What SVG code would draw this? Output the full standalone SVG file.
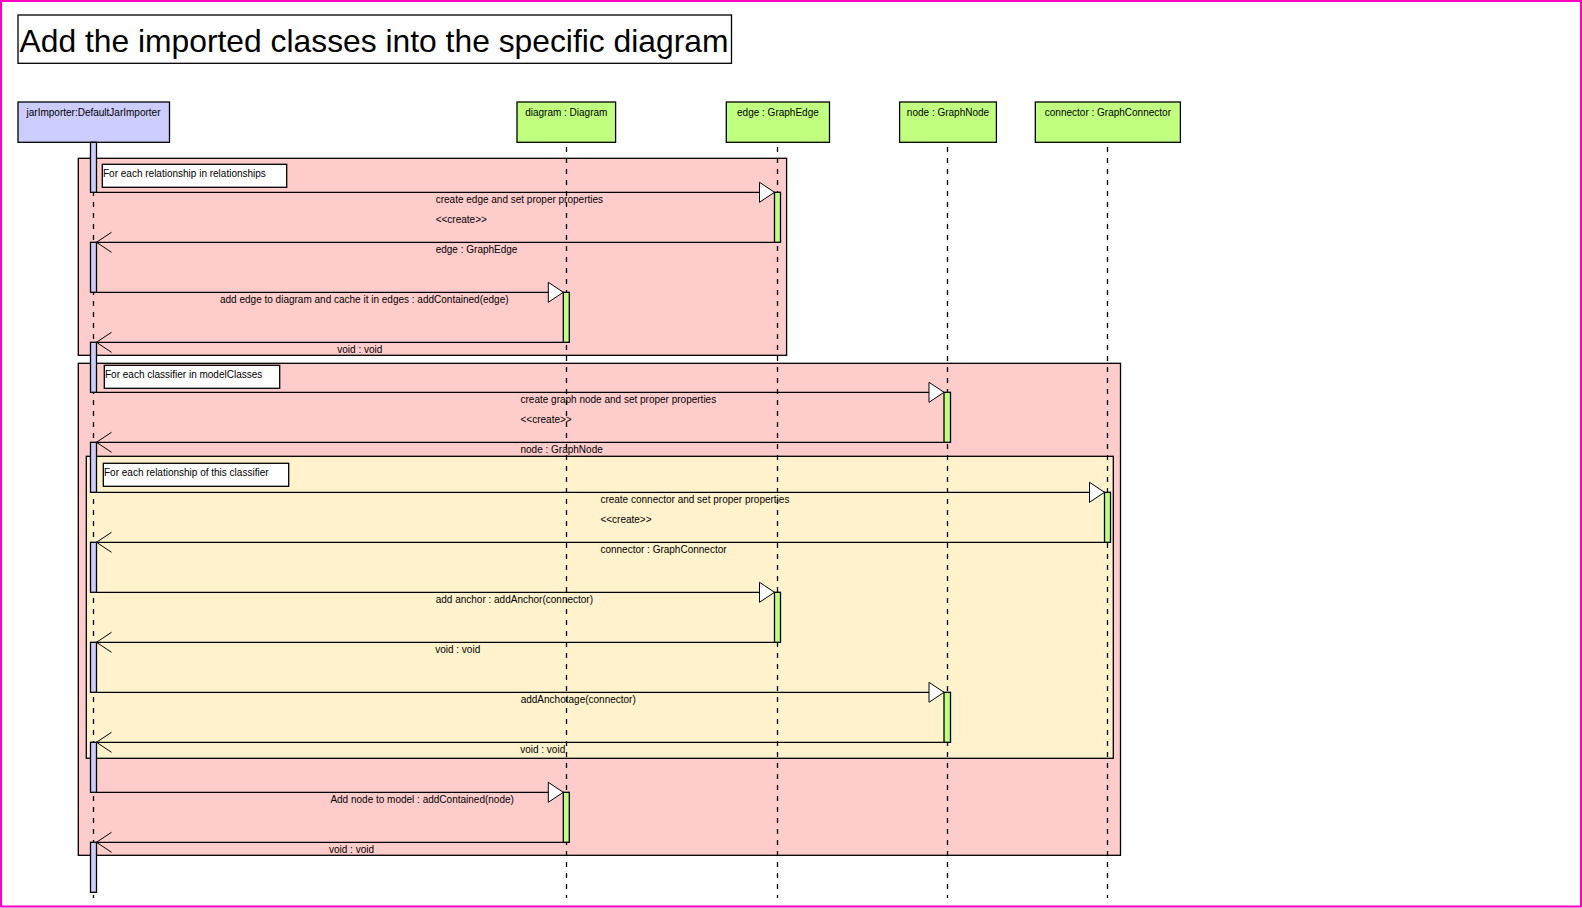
<svg xmlns="http://www.w3.org/2000/svg" width="1582" height="908" viewBox="0 0 1582 908">
<style>
text{font-family:"Liberation Sans",Arial,sans-serif;font-size:10px;fill:#000}
.title{font-size:32px}
.head{text-anchor:middle}
.frame{stroke:#000;stroke-width:1.3}
.pink{fill:#ffcccc}
.yellow{fill:#fff2cc}
.lbl{fill:#fff;stroke:#000;stroke-width:1.3}
.life{stroke:#000;stroke-width:1.3;stroke-dasharray:5,6;fill:none}
.hdr{stroke:#000;stroke-width:1.3}
.actA{fill:#ccccff;stroke:#000;stroke-width:1.3}
.actB{fill:#c0ff80;stroke:#000;stroke-width:1.3}
.msg{stroke:#000;stroke-width:1.3;fill:none}
.tri{fill:#fff;stroke:#000;stroke-width:1}
.open{stroke:#000;stroke-width:1;fill:none}
</style>
<rect x="0" y="0" width="1582" height="908" fill="#fff"/>
<rect x="1" y="1" width="1580" height="905.5" fill="none" stroke="#ff00c0" stroke-width="2"/>

<g id="title">
<rect x="18" y="15" width="713.5" height="48.3" fill="#fff" stroke="#000" stroke-width="1.3"/>
<text class="title" x="19.5" y="52" textLength="709" lengthAdjust="spacingAndGlyphs">Add the imported classes into the specific diagram</text>
</g>

<g id="frames">
<rect class="frame pink" x="78.3" y="158.3" width="708.3" height="197"/>
<rect class="lbl" x="102.3" y="164.3" width="184.4" height="23"/>
<text x="103" y="177">For each relationship in relationships</text>
<rect class="frame pink" x="78.3" y="363.3" width="1042.2" height="492"/>
<rect class="lbl" x="104.3" y="365.3" width="175.4" height="23"/>
<text x="105" y="378">For each classifier in modelClasses</text>
<rect class="frame yellow" x="86.3" y="456.3" width="1027" height="302"/>
<rect class="lbl" x="103.3" y="463.3" width="185.4" height="23"/>
<text x="104" y="476">For each relationship of this classifier</text>
</g>

<g id="jarImporter">
<rect class="hdr" x="18" y="102" width="151.5" height="40.3" fill="#ccccff"/>
<text class="head" x="93.5" y="116">jarImporter:DefaultJarImporter</text>
<line class="life" x1="93.5" y1="147" x2="93.5" y2="898"/>
</g>
<g id="diagram">
<rect class="hdr" x="517" y="102" width="98.6" height="40.3" fill="#c0ff80"/>
<text class="head" x="566.3" y="116">diagram : Diagram</text>
<line class="life" x1="566.5" y1="147" x2="566.5" y2="898"/>
</g>
<g id="edge">
<rect class="hdr" x="726.3" y="102" width="103.2" height="40.3" fill="#c0ff80"/>
<text class="head" x="777.9" y="116">edge : GraphEdge</text>
<line class="life" x1="777.5" y1="147" x2="777.5" y2="898"/>
</g>
<g id="node">
<rect class="hdr" x="899.6" y="102" width="96.8" height="40.3" fill="#c0ff80"/>
<text class="head" x="948" y="116">node : GraphNode</text>
<line class="life" x1="947.5" y1="147" x2="947.5" y2="898"/>
</g>
<g id="connector">
<rect class="hdr" x="1035.3" y="102" width="145.1" height="40.3" fill="#c0ff80"/>
<text class="head" x="1107.9" y="116">connector : GraphConnector</text>
<line class="life" x1="1107.5" y1="147" x2="1107.5" y2="898"/>
</g>

<g id="connectors">
<line class="msg" x1="96.5" y1="192.3" x2="774.5" y2="192.3"/>
<polygon class="tri" points="759.5,182.3 774.5,192.3 759.5,202.3"/>
<text x="435.7" y="202.8">create edge and set proper properties</text>
<text x="435.7" y="222.8">&lt;&lt;create&gt;&gt;</text>
<line class="msg" x1="774.5" y1="242.3" x2="96.5" y2="242.3"/>
<polyline class="open" points="111.5,232.3 96.5,242.3 111.5,252.3"/>
<text x="435.7" y="252.8">edge : GraphEdge</text>
<line class="msg" x1="96.5" y1="292.3" x2="563.3" y2="292.3"/>
<polygon class="tri" points="548.3,282.3 563.3,292.3 548.3,302.3"/>
<text x="220" y="302.8">add edge to diagram and cache it in edges : addContained(edge)</text>
<line class="msg" x1="563.3" y1="342.3" x2="96.5" y2="342.3"/>
<polyline class="open" points="111.5,332.3 96.5,342.3 111.5,352.3"/>
<text x="337.3" y="352.8">void : void</text>
<line class="msg" x1="96.5" y1="392.3" x2="944" y2="392.3"/>
<polygon class="tri" points="929,382.3 944,392.3 929,402.3"/>
<text x="520.5" y="402.8">create graph node and set proper properties</text>
<text x="520.5" y="422.8">&lt;&lt;create&gt;&gt;</text>
<line class="msg" x1="944" y1="442.3" x2="96.5" y2="442.3"/>
<polyline class="open" points="111.5,432.3 96.5,442.3 111.5,452.3"/>
<text x="520.5" y="452.8">node : GraphNode</text>
<line class="msg" x1="96.5" y1="492.3" x2="1104.5" y2="492.3"/>
<polygon class="tri" points="1089.5,482.3 1104.5,492.3 1089.5,502.3"/>
<text x="600.4" y="502.8">create connector and set proper properties</text>
<text x="600.4" y="522.8">&lt;&lt;create&gt;&gt;</text>
<line class="msg" x1="1104.5" y1="542.3" x2="96.5" y2="542.3"/>
<polyline class="open" points="111.5,532.3 96.5,542.3 111.5,552.3"/>
<text x="600.4" y="552.8">connector : GraphConnector</text>
<line class="msg" x1="96.5" y1="592.3" x2="774.5" y2="592.3"/>
<polygon class="tri" points="759.5,582.3 774.5,592.3 759.5,602.3"/>
<text x="435.7" y="602.8">add anchor : addAnchor(connector)</text>
<line class="msg" x1="774.5" y1="642.3" x2="96.5" y2="642.3"/>
<polyline class="open" points="111.5,632.3 96.5,642.3 111.5,652.3"/>
<text x="435.2" y="652.8">void : void</text>
<line class="msg" x1="96.5" y1="692.3" x2="944" y2="692.3"/>
<polygon class="tri" points="929,682.3 944,692.3 929,702.3"/>
<text x="520.7" y="702.8">addAnchotage(connector)</text>
<line class="msg" x1="944" y1="742.3" x2="96.5" y2="742.3"/>
<polyline class="open" points="111.5,732.3 96.5,742.3 111.5,752.3"/>
<text x="520.2" y="752.8">void : void</text>
<line class="msg" x1="96.5" y1="792.3" x2="563.3" y2="792.3"/>
<polygon class="tri" points="548.3,782.3 563.3,792.3 548.3,802.3"/>
<text x="330.4" y="802.8">Add node to model : addContained(node)</text>
<line class="msg" x1="563.3" y1="842.3" x2="96.5" y2="842.3"/>
<polyline class="open" points="111.5,832.3 96.5,842.3 111.5,852.3"/>
<text x="329" y="852.8">void : void</text>
</g>

<g id="activations">
<rect class="actA" x="90.5" y="142.3" width="6" height="50"/>
<rect class="actA" x="90.5" y="242.3" width="6" height="50"/>
<rect class="actA" x="90.5" y="342.3" width="6" height="50"/>
<rect class="actA" x="90.5" y="442.3" width="6" height="50"/>
<rect class="actA" x="90.5" y="542.3" width="6" height="50"/>
<rect class="actA" x="90.5" y="642.3" width="6" height="50"/>
<rect class="actA" x="90.5" y="742.3" width="6" height="50"/>
<rect class="actA" x="90.5" y="842.3" width="6" height="50"/>
<rect class="actB" x="774.5" y="192.3" width="6" height="50"/>
<rect class="actB" x="563.3" y="292.3" width="6" height="50"/>
<rect class="actB" x="944" y="392.3" width="6.5" height="50"/>
<rect class="actB" x="1104.5" y="492.3" width="6" height="50"/>
<rect class="actB" x="774.5" y="592.3" width="6" height="50"/>
<rect class="actB" x="944" y="692.3" width="6.5" height="50"/>
<rect class="actB" x="563.3" y="792.3" width="6" height="50"/>
</g>
</svg>
